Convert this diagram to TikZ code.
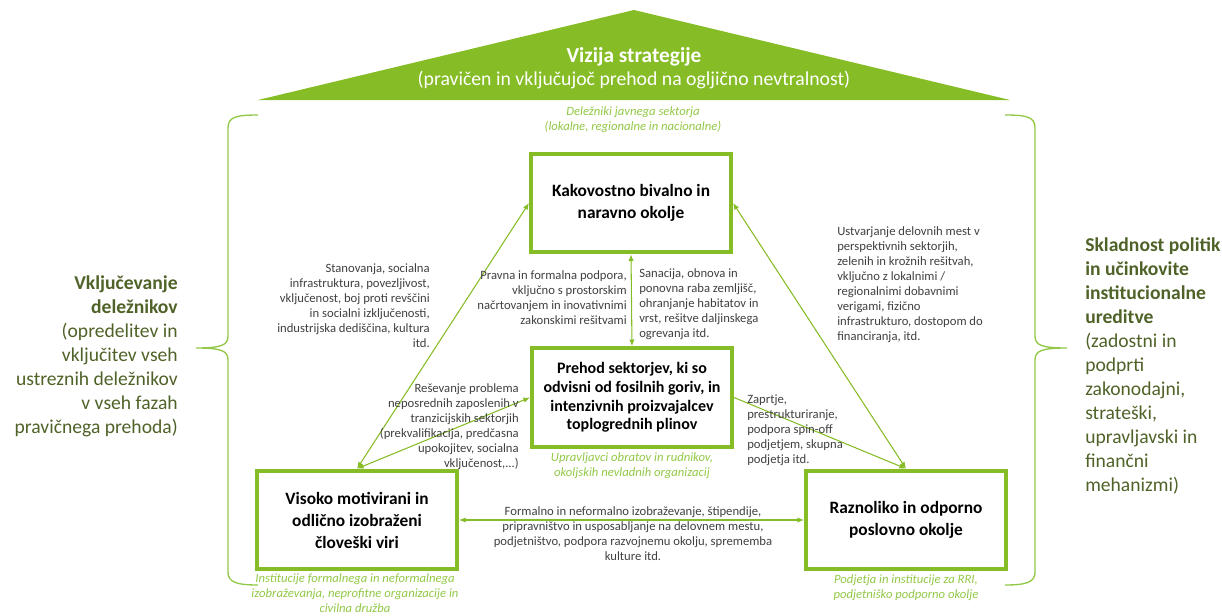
\documentclass[tikz,border=0pt]{standalone}
\usepackage{fontspec}
\setmainfont{Carlito}
\usepackage{xcolor}
\usetikzlibrary{arrows.meta}
\definecolor{boxgreen}{RGB}{134,188,37}
\definecolor{lightgreen}{RGB}{146,200,70}
\definecolor{olivetext}{RGB}{79,98,40}
\definecolor{textgray}{RGB}{64,64,64}
\tikzset{>={Latex[length=5pt,width=4pt]}}
\tikzset{
  goalbox/.style={draw=boxgreen, line width=3pt, fill=white, minimum width=150pt, minimum height=74pt,
    align=center, font=\fontsize{13}{16.5}\selectfont\bfseries},
  link/.style={boxgreen, line width=0.8pt},
  note/.style={text=textgray, inner sep=0pt, font=\fontsize{9.5}{11.25}\selectfont},
  actor/.style={text=lightgreen, inner sep=0pt, align=center, font=\fontsize{9.5}{11}\selectfont\itshape},
  pillar/.style={text=olivetext, inner sep=0pt, font=\fontsize{14.7}{18}\selectfont},
  brace/.style={lightgreen, line width=1pt}
}

\begin{document}
\begin{tikzpicture}[x=0.75pt,y=-0.75pt]
\useasboundingbox (0,0) rectangle (1222,615);

% Roof
\fill[boxgreen] (258,100) -- (634,10) -- (1010,100) -- cycle;
\node[text=white, font=\fontsize{16}{19}\selectfont\bfseries] (vizija) at (634,57) {Vizija strategije};
\node[text=white, font=\fontsize{14.8}{18}\selectfont] (vizijasub) at (634,80) {(pravičen in vključujoč prehod na ogljično nevtralnost)};

% Braces
\draw[brace] (258,115) .. controls (236,115) and (228,117) .. (228,128) -- (228,336)
  .. controls (228,345) and (222,348) .. (196,348) .. controls (222,348) and (228,351) .. (228,360)
  -- (228,572) .. controls (228,582) and (236,585) .. (258,585);
\draw[brace] (1005,115) .. controls (1027,115) and (1035,117) .. (1035,128) -- (1035,336)
  .. controls (1035,345) and (1041,348) .. (1067,348) .. controls (1041,348) and (1035,351) .. (1035,360)
  -- (1035,572) .. controls (1035,582) and (1027,585) .. (1005,585);

% Side texts
\node[pillar, anchor=east, align=right] (vklj) at (178,356)
  {\textbf{Vključevanje}\\ \textbf{deležnikov}\\ (opredelitev in\\ vključitev vseh\\ ustreznih deležnikov\\ v vseh fazah\\ pravičnega prehoda)};
\node[pillar, anchor=west, align=left] (sklad) at (1085,366)
  {\textbf{Skladnost politik}\\ \textbf{in učinkovite}\\ \textbf{institucionalne}\\ \textbf{ureditve}\\ (zadostni in\\ podprti\\ zakonodajni,\\ strateški,\\ upravljavski in\\ finančni\\ mehanizmi)};

% Boxes
\node[goalbox] (okolje) at (631,203) {Kakovostno bivalno in\\ naravno okolje};
\node[goalbox, font=\fontsize{12}{14}\selectfont\bfseries] (prehod) at (632,397.5)
  {Prehod sektorjev, ki so\\ odvisni od fosilnih goriv, in\\ intenzivnih proizvajalcev\\ toplogrednih plinov};
\node[goalbox] (viri) at (357,520) {Visoko motivirani in\\ odlično izobraženi\\ človeški viri};
\node[goalbox] (posel) at (906,520) {Raznoliko in odporno\\ poslovno okolje};

% Arrows
\draw[link,<->] (okolje.south) -- (prehod.north);
\draw[link,<->] (okolje.west) -- (viri.north);
\draw[link,<->] (prehod.west) -- (viri.north);
\draw[link,<->] (okolje.east) -- (posel.north);
\draw[link,->] (prehod.east) -- (posel.north);
\draw[link,<->] (viri.east) -- (posel.west);

% Notes
\node[note, anchor=east, align=right] (stan) at (430,306)
  {Stanovanja, socialna\\ infrastruktura, povezljivost,\\ vključenost, boj proti revščini\\ in socialni izključenosti,\\ industrijska dediščina, kultura\\ itd.};
\node[note, anchor=east, align=right] (pravna) at (627,298)
  {Pravna in formalna podpora,\\ vključno s prostorskim\\ načrtovanjem in inovativnimi\\ zakonskimi rešitvami};
\node[note, anchor=west, align=left] (sanacija) at (639,304)
  {Sanacija, obnova in\\ ponovna raba zemljišč,\\ ohranjanje habitatov in\\ vrst, rešitve daljinskega\\ ogrevanja itd.};
\node[note, anchor=west, align=left] (delo) at (837,285)
  {Ustvarjanje delovnih mest v\\ perspektivnih sektorjih,\\ zelenih in krožnih rešitvah,\\ vključno z lokalnimi /\\ regionalnimi dobavnimi\\ verigami, fizično\\ infrastrukturo, dostopom do\\ financiranja, itd.};
\node[note, anchor=east, align=right] (resevanje) at (519,427)
  {Reševanje problema\\ neposrednih zaposlenih v\\ tranzicijskih sektorjih\\ (prekvalifikacija, predčasna\\ upokojitev, socialna\\ vključenost,...)};
\node[note, anchor=west, align=left] (zaprtje) at (747,430)
  {Zaprtje,\\ prestrukturiranje,\\ podpora spin-off\\ podjetjem, skupna\\ podjetja itd.};
\node[note, align=center] (izobr) at (633,534)
  {Formalno in neformalno izobraževanje, štipendije,\\ pripravništvo in usposabljanje na delovnem mestu,\\ podjetništvo, podpora razvojnemu okolju, sprememba\\ kulture itd.};

% Actors
\node[actor] (javni) at (633,120) {Deležniki javnega sektorja\\ (lokalne, regionalne in nacionalne)};
\node[actor] (obrati) at (632,466) {Upravljavci obratov in rudnikov,\\ okoljskih nevladnih organizacij};
\node[actor] (institucije) at (355,593) {Institucije formalnega in neformalnega\\ izobraževanja, neprofitne organizacije in\\ civilna družba};
\node[actor] (podjetja) at (906,588) {Podjetja in institucije za RRI,\\ podjetniško podporno okolje};

\end{tikzpicture}
\end{document}
